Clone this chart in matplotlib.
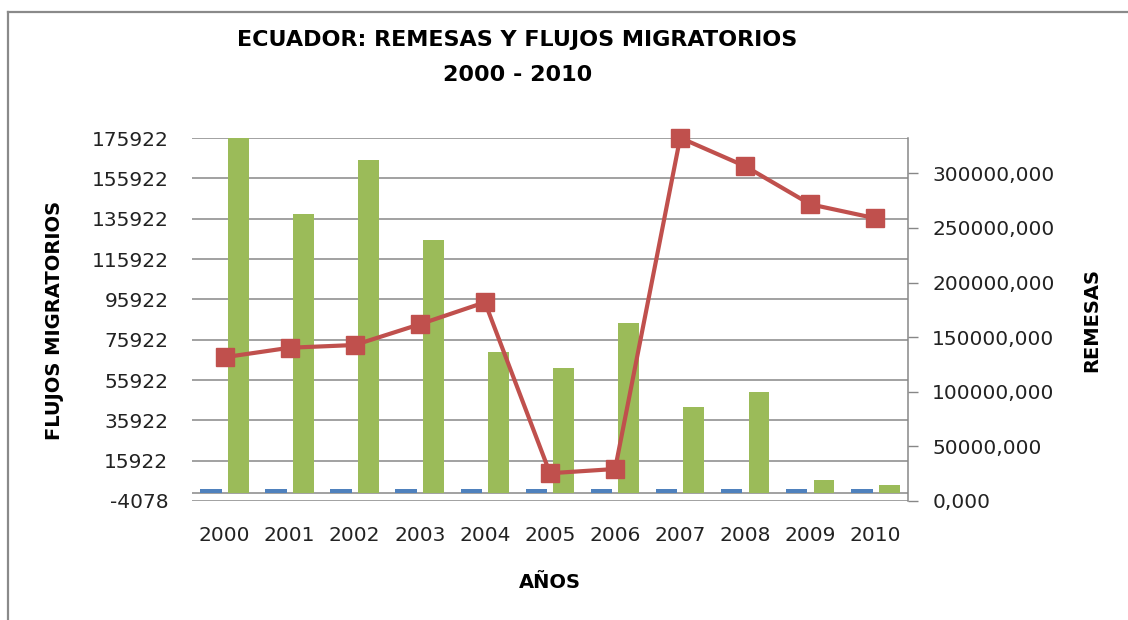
import matplotlib.pyplot as plt
from matplotlib.lines import Line2D
import numpy as np

# === Data ===
years = [2000, 2001, 2002, 2003, 2004, 2005, 2006, 2007, 2008, 2009, 2010]
year_labels = [str(y) for y in years]
# blue series is the year column plotted as bars (tiny against the axis scale)
anio_values = [2000, 2001, 2002, 2003, 2004, 2005, 2006, 2007, 2008, 2009, 2010]
flujos = [176100, 138000, 165000, 125200, 69600, 61700, 84400, 42300, 50200, 6400, 3900]
remesas = [131600, 140300, 142800, 161800, 181900, 25400, 29300, 332500, 306400, 271600, 258800]

left_ticks = [-4078, 15922, 35922, 55922, 75922, 95922, 115922, 135922, 155922, 175922]
right_ticks = [0, 50000, 100000, 150000, 200000, 250000, 300000]

# === Colors ===
blue = "#4F81BD"
green = "#9BBB59"
red = "#C0504D"
grid_gray = "#878787"

W, H = 1128, 620
fig = plt.figure(figsize=(W / 100, H / 100), dpi=100)
fig.patch.set_facecolor("white")

# plot area in pixels: x 192-908, y 138-501
ax = fig.add_axes([192 / W, 1 - 501 / H, (908 - 192) / W, (501 - 138) / H])
ax2 = ax.twinx()

x = np.arange(len(years))
ax.bar(x - 0.21, anio_values, width=0.33, color=blue, zorder=3)
ax.bar(x + 0.21, flujos, width=0.32, color=green, zorder=3)

ax.set_xlim(-0.5, len(years) - 0.5)
ax.set_ylim(left_ticks[0], left_ticks[-1])
ax.set_yticks(left_ticks)
ax.set_yticklabels([str(t) for t in left_ticks])
ax.yaxis.grid(True, color=grid_gray, linewidth=1.1)
ax.set_axisbelow(True)
ax.axhline(0, color=grid_gray, linewidth=1.1, zorder=2)
ax.set_xticks(x)
ax.set_xticklabels(year_labels)
ax.tick_params(axis="y", length=0, pad=17, labelsize=14.5, labelcolor="#222222")
ax.tick_params(axis="x", length=0, pad=18, labelsize=14.5, labelcolor="#222222")
for side in ["left", "top", "bottom", "right"]:
    ax.spines[side].set_visible(False)

# === Right axis: remesas line ===
ax2.plot(x, remesas, color=red, linewidth=3, marker="s", markersize=13,
         markeredgecolor=red, zorder=5, clip_on=False)
ax2.set_ylim(0, 332300)
ax2.set_yticks(right_ticks)
ax2.set_yticklabels([f"{t:.3f}".replace(".", ",") for t in right_ticks])
ax2.tick_params(axis="y", length=7.5, width=1, color=grid_gray, pad=10,
                labelsize=14.5, labelcolor="#222222")
for side in ["left", "top", "bottom"]:
    ax2.spines[side].set_visible(False)
ax2.spines["right"].set_color(grid_gray)
ax2.spines["right"].set_linewidth(1.1)

# === Titles and axis labels ===
fig.text(517 / W, 1 - 40 / H, "ECUADOR: REMESAS Y FLUJOS MIGRATORIOS",
         ha="center", va="center", fontsize=16, fontweight="bold")
fig.text(518 / W, 1 - 75 / H, "2000 - 2010",
         ha="center", va="center", fontsize=16, fontweight="bold")
fig.text(55 / W, 1 - 320 / H, "FLUJOS MIGRATORIOS", rotation=90,
         ha="center", va="center", fontsize=14, fontweight="bold")
fig.text(1092 / W, 1 - 320 / H, "REMESAS", rotation=90,
         ha="center", va="center", fontsize=14, fontweight="bold")
fig.text(550 / W, 1 - 582 / H, "AÑOS",
         ha="center", va="center", fontsize=14, fontweight="bold")

# === Chart frame (top and left edges visible) ===
fig.add_artist(Line2D([8 / W, 1.0], [1 - 12 / H, 1 - 12 / H], color="#8a8a8a",
                      linewidth=1.6, transform=fig.transFigure))
fig.add_artist(Line2D([8 / W, 8 / W], [1 - 12 / H, 0.0], color="#8a8a8a",
                      linewidth=1.6, transform=fig.transFigure))

plt.savefig("out.png", dpi=100)
